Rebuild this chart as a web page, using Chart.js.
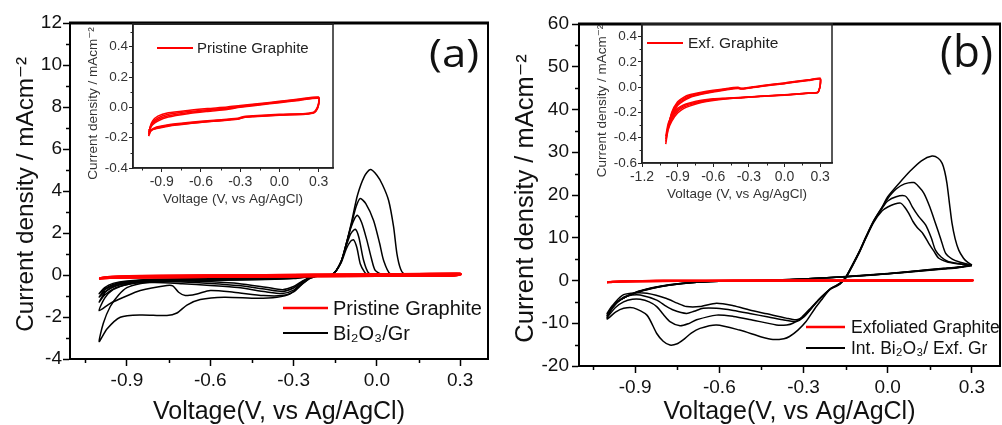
<!DOCTYPE html>
<html>
<head>
<meta charset="utf-8">
<script src="https://cdn.jsdelivr.net/npm/chart.js@4"></script>
<style>
  html, body { margin: 0; padding: 0; background: #fff; }
  #wrap { position: relative; width: 1002px; height: 425px; overflow: hidden; }
  .box { position: absolute; }
  .box canvas { display: block; }
  .tag { position: absolute; font-family: "Open Sans", sans-serif; color: #111; line-height: 1; white-space: nowrap; transform-origin: left top; }
</style>
</head>
<body>
<div id="wrap">
  <div class="box" style="left:0px;top:0px"><canvas id="mainA" width="500" height="425"></canvas></div>
  <div class="box" style="left:500px;top:0px"><canvas id="mainB" width="502" height="425"></canvas></div>
  <div class="box" style="left:80px;top:10px"><canvas id="insetA" width="270" height="200"></canvas></div>
  <div class="box" style="left:585px;top:10px"><canvas id="insetB" width="265" height="200"></canvas></div>
  <div class="tag" style="left:429px;top:33px;font-size:38px;transform:scaleX(1.15)">(a)</div>
  <div class="tag" style="left:940px;top:28px;font-size:44px">(b)</div>
</div>
<script>
const FONT = '"Liberation Sans", Arial, "DejaVu Sans", sans-serif';

// ---- ticks ----
const voltMajor = [-0.9, -0.6, -0.3, 0, 0.3];
const voltMinor = [-1.05, -0.75, -0.45, -0.15, 0.15];
const aCurrentMajor = [-4, -2, 0, 2, 4, 6, 8, 10, 12];
const aCurrentMinor = [-3, -1, 1, 3, 5, 7, 9, 11];
const bCurrentMajor = [-20, -10, 0, 10, 20, 30, 40, 50, 60];
const bCurrentMinor = [-15, -5, 5, 15, 25, 35, 45, 55];
const insetAVoltMajor = [-0.9, -0.6, -0.3, 0, 0.3];
const insetACurrentMajor = [-0.4, -0.2, 0, 0.2, 0.4];
const insetACurrentMinor = [-0.3, -0.1, 0.1, 0.3, 0.5];
const insetBVoltMajor = [-1.2, -0.9, -0.6, -0.3, 0, 0.3];
const insetBCurrentMajor = [-0.6, -0.4, -0.2, 0, 0.2, 0.4];
const insetBCurrentMinor = [-0.5, -0.3, -0.1, 0.1, 0.3];

// ---- legend labels ----
const legendA = ['Pristine Graphite', 'Bi₂O₃/Gr'];
const legendB = ['Exfoliated Graphite', 'Int. Bi₂O₃/ Exf. Gr'];
const insetLegendA = ['Pristine Graphite'];
const insetLegendB = ['Exf. Graphite'];

// ---- panel (a): pristine graphite cycles [V, mA cm-2] ----
const pristine1 = [[-1.0,-0.19],[-0.99,-0.13],[-0.97,-0.09],[-0.93,-0.058],[-0.85,-0.036],[-0.7,-0.02],[-0.55,-0.008],[-0.4,0.002],[-0.3,0.012],[-0.15,0.026],[0.0,0.04],[0.15,0.055],[0.3,0.068],[0.302,0.04],[0.29,0.0],[0.265,-0.03],[0.2,-0.04],[0.0,-0.046],[-0.2,-0.055],[-0.27,-0.06],[-0.32,-0.072],[-0.5,-0.085],[-0.7,-0.1],[-0.85,-0.114],[-0.94,-0.13],[-0.98,-0.15],[-1.0,-0.19]];
const pristine2 = [[-1.0,-0.178],[-0.99,-0.135],[-0.97,-0.1],[-0.93,-0.07],[-0.85,-0.046],[-0.7,-0.028],[-0.55,-0.015],[-0.4,-0.004],[-0.3,0.008],[-0.15,0.022],[0.0,0.037],[0.15,0.052],[0.3,0.065],[0.302,0.035],[0.29,-0.004],[0.265,-0.033],[0.2,-0.042],[0.0,-0.049],[-0.2,-0.058],[-0.27,-0.063],[-0.32,-0.075],[-0.5,-0.088],[-0.7,-0.103],[-0.85,-0.118],[-0.94,-0.134],[-0.98,-0.153],[-1.0,-0.178]];
const pristine3 = [[-1.0,-0.165],[-0.99,-0.138],[-0.97,-0.108],[-0.93,-0.08],[-0.85,-0.055],[-0.7,-0.035],[-0.55,-0.021],[-0.4,-0.009],[-0.3,0.004],[-0.15,0.019],[0.0,0.034],[0.15,0.049],[0.3,0.062],[0.302,0.03],[0.29,-0.008],[0.265,-0.035],[0.2,-0.044],[0.0,-0.051],[-0.2,-0.06],[-0.27,-0.065],[-0.32,-0.077],[-0.5,-0.09],[-0.7,-0.106],[-0.85,-0.121],[-0.94,-0.138],[-0.98,-0.15],[-1.0,-0.165]];
const pristine4 = [[-1.0,-0.15],[-0.99,-0.14],[-0.97,-0.115],[-0.93,-0.09],[-0.85,-0.064],[-0.7,-0.042],[-0.55,-0.027],[-0.4,-0.014],[-0.3,0.0],[-0.15,0.016],[0.0,0.031],[0.15,0.046],[0.3,0.06],[0.302,0.028],[0.29,-0.01],[0.265,-0.036],[0.2,-0.045],[0.0,-0.052],[-0.2,-0.062],[-0.27,-0.067],[-0.32,-0.079],[-0.5,-0.092],[-0.7,-0.108],[-0.85,-0.124],[-0.94,-0.14],[-0.98,-0.146],[-1.0,-0.15]];

// ---- panel (a): Bi2O3/Gr cycles ----
const biGr1 = [[0.3,0.02],[0.1,0.0],[-0.1,-0.02],[-0.2,-0.04],[-0.24,-0.16],[-0.276,-0.5],[-0.312,-0.9],[-0.36,-1.06],[-0.43,-1.11],[-0.55,-1.06],[-0.636,-1.17],[-0.684,-1.43],[-0.72,-1.81],[-0.756,-1.93],[-0.85,-1.9],[-0.924,-2.01],[-0.972,-2.57],[-1.0,-3.17],
  [-0.985,-2.3],[-0.96,-1.5],[-0.93,-0.95],[-0.9,-0.6],[-0.85,-0.4],[-0.8,-0.32],[-0.7,-0.28],[-0.6,-0.26],[-0.4,-0.22],[-0.3,-0.17],[-0.22,-0.05],[-0.16,0.03],[-0.13,0.6],[-0.11,1.5],[-0.09,2.6],[-0.07,3.8],[-0.045,4.7],[-0.024,5.02],[0.0,4.75],[0.02,4.3],[0.042,3.56],[0.06,2.3],[0.072,1.02],[0.085,0.3],[0.1,0.05],[0.2,0.03],[0.3,0.03]];
const biGr2 = [[0.3,0.02],[0.0,0.0],[-0.2,-0.03],[-0.24,-0.15],[-0.27,-0.45],[-0.3,-0.8],[-0.342,-0.98],[-0.408,-0.98],[-0.516,-0.82],[-0.6,-0.74],[-0.648,-0.9],[-0.69,-0.98],[-0.714,-0.82],[-0.735,-0.52],[-0.756,-0.5],[-0.852,-0.74],[-0.912,-1.06],[-0.96,-1.35],[-1.0,-1.7],
  [-0.98,-1.1],[-0.95,-0.7],[-0.9,-0.45],[-0.8,-0.3],[-0.6,-0.24],[-0.4,-0.2],[-0.3,-0.15],[-0.22,-0.04],[-0.16,0.03],[-0.13,0.6],[-0.11,1.5],[-0.09,2.5],[-0.075,3.25],[-0.06,3.64],[-0.04,3.4],[-0.012,2.6],[0.01,1.5],[0.024,0.7],[0.048,0.05],[0.1,0.02],[0.3,0.03]];
const biGr3 = [[0.3,0.02],[0.0,0.0],[-0.2,-0.03],[-0.24,-0.12],[-0.27,-0.38],[-0.3,-0.72],[-0.34,-0.88],[-0.4,-0.8],[-0.5,-0.6],[-0.6,-0.5],[-0.7,-0.42],[-0.8,-0.36],[-0.88,-0.4],[-0.94,-0.6],[-0.98,-0.95],[-1.0,-1.29],
  [-0.98,-0.85],[-0.95,-0.55],[-0.9,-0.38],[-0.8,-0.26],[-0.6,-0.2],[-0.4,-0.17],[-0.3,-0.13],[-0.22,-0.04],[-0.16,0.03],[-0.13,0.6],[-0.11,1.5],[-0.095,2.2],[-0.08,2.7],[-0.07,2.84],[-0.055,2.5],[-0.036,1.65],[-0.02,0.8],[-0.006,0.22],[0.02,0.03],[0.3,0.03]];
const biGr4 = [[0.3,0.02],[0.0,0.0],[-0.2,-0.03],[-0.24,-0.11],[-0.27,-0.34],[-0.3,-0.62],[-0.34,-0.78],[-0.4,-0.68],[-0.5,-0.5],[-0.6,-0.4],[-0.7,-0.33],[-0.8,-0.3],[-0.88,-0.35],[-0.94,-0.52],[-0.98,-0.8],[-1.0,-1.05],
  [-0.98,-0.7],[-0.95,-0.45],[-0.9,-0.32],[-0.8,-0.22],[-0.6,-0.18],[-0.4,-0.15],[-0.3,-0.12],[-0.22,-0.04],[-0.16,0.03],[-0.13,0.6],[-0.11,1.4],[-0.095,1.95],[-0.078,2.18],[-0.065,1.8],[-0.048,0.7],[-0.03,0.1],[0.0,0.02],[0.3,0.03]];
const biGr5 = [[0.3,0.02],[0.0,0.0],[-0.2,-0.03],[-0.24,-0.1],[-0.27,-0.3],[-0.3,-0.55],[-0.34,-0.7],[-0.4,-0.58],[-0.5,-0.4],[-0.6,-0.32],[-0.7,-0.27],[-0.8,-0.25],[-0.88,-0.3],[-0.94,-0.45],[-0.98,-0.68],[-1.0,-0.89],
  [-0.98,-0.6],[-0.95,-0.4],[-0.9,-0.28],[-0.8,-0.2],[-0.6,-0.16],[-0.4,-0.13],[-0.3,-0.1],[-0.22,-0.04],[-0.16,0.03],[-0.13,0.55],[-0.11,1.25],[-0.095,1.6],[-0.084,1.68],[-0.072,1.3],[-0.06,0.54],[-0.045,0.15],[-0.036,0.05],[0.3,0.03]];

// ---- panel (b): exfoliated graphite cycles ----
const exf1 = [[-1.0,-0.45],[-0.98,-0.33],[-0.95,-0.2],[-0.9,-0.115],[-0.85,-0.08],[-0.8,-0.06],[-0.7,-0.04],[-0.6,-0.025],[-0.5,-0.013],[-0.43,-0.003],[-0.39,0.0],[-0.37,-0.008],[-0.33,-0.006],[-0.2,0.012],[0.0,0.034],[0.1,0.047],[0.2,0.058],[0.3,0.07],
  [0.303,0.04],[0.297,0.0],[0.28,-0.04],[0.2,-0.046],[0.0,-0.06],[-0.2,-0.072],[-0.35,-0.083],[-0.5,-0.094],[-0.6,-0.105],[-0.7,-0.122],[-0.8,-0.15],[-0.85,-0.17],[-0.9,-0.205],[-0.95,-0.27],[-0.98,-0.34],[-1.0,-0.45]];
const exf2 = [[-1.0,-0.43],[-0.98,-0.32],[-0.95,-0.21],[-0.9,-0.125],[-0.85,-0.09],[-0.8,-0.068],[-0.7,-0.046],[-0.6,-0.03],[-0.5,-0.017],[-0.43,-0.007],[-0.39,-0.004],[-0.37,-0.01],[-0.33,-0.008],[-0.2,0.01],[0.0,0.032],[0.1,0.045],[0.2,0.056],[0.3,0.068],
  [0.303,0.038],[0.297,-0.002],[0.28,-0.041],[0.2,-0.047],[0.0,-0.061],[-0.2,-0.072],[-0.35,-0.082],[-0.5,-0.091],[-0.6,-0.1],[-0.7,-0.115],[-0.8,-0.14],[-0.85,-0.158],[-0.9,-0.19],[-0.95,-0.255],[-0.98,-0.33],[-1.0,-0.43]];
const exf3 = [[-1.0,-0.41],[-0.98,-0.31],[-0.95,-0.215],[-0.9,-0.135],[-0.85,-0.1],[-0.8,-0.076],[-0.7,-0.052],[-0.6,-0.034],[-0.5,-0.02],[-0.43,-0.01],[-0.39,-0.007],[-0.37,-0.012],[-0.33,-0.01],[-0.2,0.008],[0.0,0.03],[0.1,0.043],[0.2,0.054],[0.3,0.066],
  [0.303,0.036],[0.297,-0.004],[0.28,-0.042],[0.2,-0.048],[0.0,-0.062],[-0.2,-0.072],[-0.35,-0.081],[-0.5,-0.089],[-0.6,-0.096],[-0.7,-0.109],[-0.8,-0.132],[-0.85,-0.148],[-0.9,-0.178],[-0.95,-0.24],[-0.98,-0.31],[-1.0,-0.41]];
const exf4 = [[-1.0,-0.39],[-0.98,-0.3],[-0.95,-0.22],[-0.9,-0.145],[-0.85,-0.108],[-0.8,-0.083],[-0.7,-0.057],[-0.6,-0.038],[-0.5,-0.023],[-0.43,-0.013],[-0.39,-0.01],[-0.37,-0.014],[-0.33,-0.012],[-0.2,0.006],[0.0,0.028],[0.1,0.041],[0.2,0.052],[0.3,0.064],
  [0.303,0.034],[0.297,-0.006],[0.28,-0.043],[0.2,-0.049],[0.0,-0.063],[-0.2,-0.073],[-0.35,-0.08],[-0.5,-0.087],[-0.6,-0.092],[-0.7,-0.104],[-0.8,-0.125],[-0.85,-0.14],[-0.9,-0.168],[-0.95,-0.23],[-0.98,-0.29],[-1.0,-0.39]];

// ---- panel (b): Int. Bi2O3 / Exf. Gr cycles ----
const intBi1 = [[0.3,3.6],[0.25,3.1],[0.2,2.8],[0.1,2.2],[0.0,1.6],[-0.1,1.1],[-0.2,0.7],[-0.3,0.35],[-0.4,0.1],[-0.5,-0.05],[-0.6,-0.15],[-0.7,-0.45],[-0.78,-1.0],[-0.84,-1.7],[-0.9,-2.8],[-0.95,-4.4],[-0.98,-6.2],[-1.0,-9.0],
  [-0.97,-7.4],[-0.941,-6.5],[-0.906,-6.4],[-0.858,-8.1],[-0.823,-12.4],[-0.8,-14.2],[-0.776,-15.1],[-0.75,-14.8],[-0.729,-13.9],[-0.7,-12.3],[-0.669,-11.2],[-0.61,-10.4],[-0.528,-11.6],[-0.45,-13.2],[-0.409,-13.8],[-0.37,-13.6],[-0.35,-13.1],[-0.32,-11.6],[-0.291,-9.6],[-0.26,-6.6],[-0.232,-4.2],[-0.208,-2.2],[-0.19,-1.4],[-0.17,-0.6],[-0.15,0.8],[-0.125,3.8],[-0.1,7.0],[-0.078,10.2],[-0.05,14.0],[-0.019,17.3],[0.0,19.6],[0.04,22.7],[0.08,25.6],[0.12,28.0],[0.158,29.1],[0.18,28.6],[0.194,27.4],[0.203,25.5],[0.211,22.7],[0.22,18.0],[0.229,13.4],[0.24,9.8],[0.253,7.1],[0.27,5.2],[0.282,4.4],[0.3,3.6]];
const intBi2 = [[0.3,3.6],[0.25,3.15],[0.2,2.85],[0.1,2.25],[0.0,1.65],[-0.1,1.15],[-0.2,0.72],[-0.3,0.36],[-0.4,0.1],[-0.5,-0.06],[-0.6,-0.17],[-0.7,-0.48],[-0.78,-1.05],[-0.84,-1.75],[-0.9,-2.85],[-0.95,-4.4],[-0.98,-6.0],[-1.0,-8.6],
  [-0.97,-6.3],[-0.941,-5.0],[-0.91,-4.4],[-0.882,-4.4],[-0.85,-5.0],[-0.823,-6.1],[-0.8,-7.9],[-0.776,-9.6],[-0.74,-10.6],[-0.71,-10.1],[-0.681,-9.2],[-0.61,-8.1],[-0.55,-8.4],[-0.492,-9.1],[-0.397,-10.4],[-0.36,-10.4],[-0.338,-10.0],[-0.31,-8.8],[-0.28,-6.8],[-0.25,-4.8],[-0.225,-3.2],[-0.205,-2.0],[-0.19,-1.5],[-0.17,-0.7],[-0.15,0.7],[-0.125,3.7],[-0.1,6.9],[-0.078,10.1],[-0.05,13.9],[-0.019,17.2],[0.0,19.2],[0.03,21.4],[0.06,22.6],[0.093,22.9],[0.11,22.0],[0.129,20.4],[0.15,17.2],[0.17,13.4],[0.19,9.5],[0.206,6.4],[0.23,5.0],[0.253,4.4],[0.3,3.6]];
const intBi3 = [[0.3,3.5],[0.25,3.05],[0.2,2.75],[0.1,2.15],[0.0,1.6],[-0.1,1.1],[-0.2,0.7],[-0.3,0.34],[-0.4,0.08],[-0.5,-0.07],[-0.6,-0.18],[-0.7,-0.5],[-0.78,-1.1],[-0.84,-1.8],[-0.9,-2.9],[-0.95,-4.4],[-0.98,-5.9],[-1.0,-8.2],
  [-0.97,-5.6],[-0.941,-3.9],[-0.91,-3.4],[-0.882,-3.4],[-0.823,-4.6],[-0.79,-6.0],[-0.764,-6.9],[-0.717,-7.7],[-0.69,-7.2],[-0.658,-6.5],[-0.61,-6.5],[-0.55,-7.0],[-0.492,-7.7],[-0.43,-8.5],[-0.374,-9.2],[-0.326,-9.6],[-0.3,-8.6],[-0.27,-6.4],[-0.245,-4.5],[-0.22,-2.9],[-0.2,-1.8],[-0.185,-1.4],[-0.17,-0.8],[-0.15,0.6],[-0.125,3.6],[-0.1,6.8],[-0.078,10.0],[-0.05,13.8],[-0.019,17.0],[0.0,18.6],[0.03,19.6],[0.061,19.8],[0.075,18.8],[0.087,17.3],[0.11,15.0],[0.135,13.0],[0.155,10.0],[0.17,7.1],[0.19,5.5],[0.217,4.4],[0.3,3.5]];
const intBi4 = [[0.3,3.5],[0.25,3.0],[0.2,2.7],[0.1,2.1],[0.0,1.55],[-0.1,1.05],[-0.2,0.68],[-0.3,0.33],[-0.4,0.07],[-0.5,-0.08],[-0.6,-0.2],[-0.7,-0.52],[-0.78,-1.12],[-0.84,-1.85],[-0.9,-2.95],[-0.95,-4.4],[-0.98,-5.8],[-1.0,-7.7],
  [-0.97,-5.0],[-0.941,-3.3],[-0.9,-2.9],[-0.858,-3.0],[-0.788,-4.2],[-0.75,-5.3],[-0.717,-6.1],[-0.669,-6.1],[-0.61,-5.3],[-0.55,-5.9],[-0.492,-6.9],[-0.43,-7.8],[-0.362,-8.8],[-0.326,-9.2],[-0.3,-8.5],[-0.27,-6.3],[-0.245,-4.4],[-0.22,-2.8],[-0.2,-1.7],[-0.185,-1.3],[-0.17,-0.8],[-0.15,0.5],[-0.125,3.5],[-0.1,6.7],[-0.078,9.9],[-0.05,13.6],[-0.02,16.3],[0.0,17.2],[0.025,17.9],[0.046,18.1],[0.06,17.2],[0.075,15.7],[0.09,13.8],[0.105,12.4],[0.125,11.0],[0.146,8.7],[0.165,6.8],[0.182,5.2],[0.21,4.4],[0.241,4.0],[0.3,3.5]];

// ---- helpers ----
const toPts = arr => arr.map(([x, y]) => ({ x, y }));
function loops(list, color, width) {
  return list.map(arr => ({
    data: toPts(arr), borderColor: color, borderWidth: width,
    pointRadius: 0, showLine: true, fill: false, tension: 0.25
  }));
}

function makeAxis(c) {
  return {
    type: 'linear', position: c.pos, min: c.min, max: c.max,
    afterBuildTicks: s => { s.ticks = c.major.map(v => ({ value: v })); },
    afterFit: s => { if (c.pos === 'bottom') s.height = c.size; else s.width = c.size; },
    ticks: {
      autoSkip: false, maxRotation: 0, minRotation: 0, padding: c.pad,
      color: c.color, font: { family: FONT, size: c.tickSize }, callback: c.fmt
    },
    grid: { drawOnChartArea: false, drawTicks: true, tickLength: c.tickLen, tickWidth: c.tickWidth, tickColor: c.line },
    border: { display: true, color: c.line, width: c.borderWidth },
    title: {
      display: true, text: c.title, color: c.color,
      font: { family: FONT, size: c.titleSize, lineHeight: 1 }, padding: c.titlePad
    }
  };
}

// frame box + minor ticks
const framePlugin = {
  id: 'frame',
  afterDraw(chart, args, o) {
    const { ctx, chartArea: a, scales } = chart;
    ctx.save();
    ctx.strokeStyle = o.color;
    ctx.lineWidth = o.width;
    ctx.strokeRect(a.left, a.top, a.right - a.left, a.bottom - a.top);
    ctx.lineWidth = o.topWidth;
    ctx.beginPath(); ctx.moveTo(a.left - 1, a.top); ctx.lineTo(a.right + 1, a.top); ctx.stroke();
    ctx.lineWidth = o.tickWidth;
    ctx.beginPath();
    o.xMinor.forEach(v => {
      const px = Math.round(scales.x.getPixelForValue(v)) + 0.5;
      ctx.moveTo(px, a.bottom); ctx.lineTo(px, a.bottom + o.minorLen);
    });
    o.yMinor.forEach(v => {
      const py = Math.round(scales.y.getPixelForValue(v)) + 0.5;
      ctx.moveTo(a.left, py); ctx.lineTo(a.left - o.minorLen, py);
    });
    ctx.stroke();
    ctx.restore();
  }
};

// legend drawn as line samples + text at fixed spots
const keyPlugin = {
  id: 'key',
  afterDraw(chart, args, o) {
    if (!o.items) return;
    const ctx = chart.ctx;
    ctx.save();
    ctx.font = o.font;
    ctx.textBaseline = 'middle';
    ctx.fillStyle = o.textColor;
    o.items.forEach(it => {
      ctx.strokeStyle = it.color;
      ctx.lineWidth = it.width;
      ctx.beginPath(); ctx.moveTo(o.x0, it.y); ctx.lineTo(o.x1, it.y); ctx.stroke();
      ctx.fillText(it.text, o.x1 + o.gap, it.y + 1);
    });
    ctx.restore();
  }
};

Chart.register(framePlugin, keyPlugin);

const fmt1 = v => v.toFixed(1);
const fmt0 = v => String(v);
const yTitle = 'Current density / mAcm⁻²';

function makeChart(id, p) {
  return new Chart(document.getElementById(id), {
    type: 'scatter',
    data: { datasets: p.datasets },
    options: {
      responsive: false, animation: false,
      layout: { padding: p.padding },
      plugins: {
        legend: { display: false }, tooltip: { enabled: false },
        frame: p.frame, key: p.key
      },
      scales: { x: p.x, y: p.y }
    }
  });
}

// ---- panel (a) main ----
makeChart('mainA', {
  datasets: [...loops([pristine1, pristine2, pristine3, pristine4], '#ff0000', 2),
             ...loops([biGr1, biGr2, biGr3, biGr4, biGr5], '#000000', 1.5)],
  padding: { left: 0, right: 12, top: 23, bottom: 0 },
  x: makeAxis({ pos: 'bottom', min: -1.105, max: 0.4, major: voltMajor, size: 66, pad: 3, color: '#111', tickSize: 19, fmt: fmt1,
    tickLen: 7, tickWidth: 1.5, line: '#000', borderWidth: 2, title: 'Voltage(V, vs Ag/AgCl)', titleSize: 25, titlePad: { top: 0, bottom: 0 } }),
  y: makeAxis({ pos: 'left', min: -4, max: 12, major: aCurrentMajor, size: 70, pad: 1, color: '#111', tickSize: 19, fmt: fmt0,
    tickLen: 7, tickWidth: 1.5, line: '#000', borderWidth: 2, title: yTitle + ' ', titleSize: 24.3, titlePad: { top: 14.5, bottom: 0 } }),
  frame: { color: '#000', width: 2, topWidth: 3, tickWidth: 1.5, minorLen: 4, xMinor: voltMinor, yMinor: aCurrentMinor },
  key: { font: '20px ' + FONT, textColor: '#111', x0: 283, x1: 328, gap: 5,
    items: [{ text: legendA[0], color: '#ff0000', width: 2.5, y: 308 }, { text: legendA[1], color: '#000', width: 2, y: 333 }] }
});

// ---- panel (b) main ----
makeChart('mainB', {
  datasets: [...loops([exf1, exf2, exf3, exf4], '#ff0000', 2),
             ...loops([intBi1, intBi2, intBi3, intBi4], '#000000', 1.5)],
  padding: { left: 0, right: 2, top: 24, bottom: 0 },
  x: makeAxis({ pos: 'bottom', min: -1.1, max: 0.4, major: voltMajor, size: 59, pad: 3, color: '#111', tickSize: 19, fmt: fmt1,
    tickLen: 7, tickWidth: 1.5, line: '#000', borderWidth: 2, title: 'Voltage(V, vs Ag/AgCl)', titleSize: 25, titlePad: { top: 0, bottom: 0 } }),
  y: makeAxis({ pos: 'left', min: -20, max: 60, major: bCurrentMajor, size: 79, pad: 3, color: '#111', tickSize: 19, fmt: fmt0,
    tickLen: 7, tickWidth: 1.5, line: '#000', borderWidth: 2, title: yTitle + ' ', titleSize: 25.5, titlePad: { top: 13.5, bottom: 0 } }),
  frame: { color: '#000', width: 2, topWidth: 3, tickWidth: 1.5, minorLen: 4, xMinor: voltMinor, yMinor: bCurrentMinor },
  key: { font: '17.5px ' + FONT, textColor: '#111', x0: 306, x1: 345, gap: 6,
    items: [{ text: legendB[0], color: '#ff0000', width: 2.5, y: 327 }, { text: legendB[1], color: '#000', width: 2, y: 348 }] }
});

// ---- inset (a) ----
makeChart('insetA', {
  datasets: loops([pristine1, pristine2, pristine3, pristine4], '#ff0000', 1.5),
  padding: { left: 0, right: 17, top: 14, bottom: 0 },
  x: makeAxis({ pos: 'bottom', min: -1.12, max: 0.41, major: insetAVoltMajor, size: 42, pad: 2, color: '#333', tickSize: 14, fmt: fmt1,
    tickLen: 4, tickWidth: 1, line: '#222', borderWidth: 1.5, title: 'Voltage (V, vs Ag/AgCl)', titleSize: 13.5, titlePad: { top: 0, bottom: 4 } }),
  y: makeAxis({ pos: 'left', min: -0.4, max: 0.55, major: insetACurrentMajor, size: 53, pad: 1, color: '#333', tickSize: 13.5, fmt: fmt1,
    tickLen: 4, tickWidth: 1, line: '#222', borderWidth: 1.5, title: yTitle + '    ', titleSize: 13.5, titlePad: { top: 7, bottom: 0 } }),
  frame: { color: '#222', width: 1.5, topWidth: 1.5, tickWidth: 1, minorLen: 2.5, xMinor: voltMinor, yMinor: insetACurrentMinor },
  key: { font: '15px ' + FONT, textColor: '#222', x0: 77, x1: 113, gap: 4,
    items: [{ text: insetLegendA[0], color: '#ff0000', width: 2, y: 38 }] }
});

// ---- inset (b) ----
makeChart('insetB', {
  datasets: loops([exf1, exf2, exf3, exf4], '#ff0000', 1.5),
  padding: { left: 0, right: 18, top: 14, bottom: 0 },
  x: makeAxis({ pos: 'bottom', min: -1.2, max: 0.4, major: insetBVoltMajor, size: 47, pad: 2, color: '#333', tickSize: 14, fmt: fmt1,
    tickLen: 4, tickWidth: 1, line: '#222', borderWidth: 1.5, title: 'Voltage (V, vs Ag/AgCl)', titleSize: 13.5, titlePad: { top: 0, bottom: 9 } }),
  y: makeAxis({ pos: 'left', min: -0.6, max: 0.5, major: insetBCurrentMajor, size: 57, pad: 1, color: '#333', tickSize: 13.5, fmt: fmt1,
    tickLen: 4, tickWidth: 1, line: '#222', borderWidth: 1.5, title: yTitle + '    ', titleSize: 13.5, titlePad: { top: 10.5, bottom: 0 } }),
  frame: { color: '#222', width: 1.5, topWidth: 1.5, tickWidth: 1, minorLen: 2.5, xMinor: voltMinor, yMinor: insetBCurrentMinor },
  key: { font: '15.5px ' + FONT, textColor: '#222', x0: 62, x1: 98, gap: 5,
    items: [{ text: insetLegendB[0], color: '#ff0000', width: 2, y: 33 }] }
});
</script>
</body>
</html>
